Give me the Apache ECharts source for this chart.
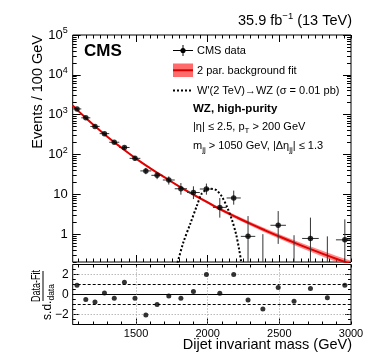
<!DOCTYPE html>
<html><head><meta charset="utf-8">
<script src="https://cdn.jsdelivr.net/npm/echarts@6/dist/echarts.min.js"></script>
<style>html,body{margin:0;padding:0;background:#fff}#c{width:374px;height:363px}</style>
</head><body><div id="c"></div>
<script>
// ---------------- data ----------------
const binEdges = [1058,1118,1181,1246,1313,1383,1455,1530,1607,1687,1770,1856,1945,2037,2132,2231,2332,2438,2546,2659,2775,2895,3019];
const events   = [1393,833,507,334,203,150,80,38.7,30,22.9,13.8,11.1,13.6,4.7,8.1,0.88,0,1.67,0,0.78,0,0.72];
const errLow   = [1345,797,479,312,186,136,70,32,24,17.6,9.8,7.6,9.8,2.6,5.5,0.13,0,0.57,0,0.12,0,0.11];
const errHigh  = [1441,869,535,356,220,164,90,46,36,28.2,19.2,15.9,18.6,8.1,12.4,2.84,1.0,3.8,0.94,2.6,0.88,2.36];
const pulls    = [0.93,-0.5,-0.74,0.16,-0.37,1.23,-0.37,-2.04,-1.0,-0.14,-0.37,0.3,2.0,0.13,2.0,-0.54,-1.44,0.7,-0.67,0.6,-0.33,0.93];
const fitMass   = [1058,1100,1200,1300,1400,1500,1600,1700,1800,1900,2000,2100,2200,2300,2400,2500,2600,2700,2800,2900,3000];
const fitValues = [1700,1210,565,280,146,79,45,26.5,15.9,9.8,6.25,4.0,2.67,1.81,1.25,0.875,0.62,0.445,0.324,0.238,0.177];
const fitBandDex = [0.02,0.015,0.01,0.01,0.01,0.012,0.015,0.018,0.022,0.027,0.032,0.037,0.043,0.048,0.053,0.058,0.063,0.068,0.073,0.078,0.083];
const sigMass   = [1760,1790,1830,1877,1923,1958,1990,2016,2040,2063,2098,2133,2168,2198,2219,2232,2245];
const sigValues = [0.1,0.2,0.62,1.77,5.0,10.4,13.0,13.8,13.5,12.6,8.9,5.0,2.36,1.0,0.42,0.22,0.1];
const yTickLabels = [1,10,100,1000,10000,100000];
const xTickLabels = [1500,2000,2500,3000];
const pullTickLabels = [-2,0,2];

// ---------------- helpers ----------------
const FONT = "'Liberation Sans', Arial, Helvetica, sans-serif";
const xMin = 1058, xMax = 3000;
function range(a,b,s){const r=[];for(let v=a;v<=b+1e-9;v+=s)r.push(Math.round(v*1000)/1000);return r;}
const xMinorTicks = range(1100,3000,50);
const logMinorTicks = [];
[0.1,1,10,100,1000,10000].forEach(d=>{for(let k=2;k<=9;k++){const v=k*d; if(v>=0.2&&v<=1e5) logMinorTicks.push(+v.toPrecision(3));}});
const pullMinor = range(-3,3,0.5);

function xAx(grid,pos,ticks,len,labels){
  return {type:'value',gridIndex:grid,position:pos,min:xMin,max:xMax,
    axisLine:{show:false,onZero:false},splitLine:{show:false},
    axisTick:{show:true,inside:true,length:len,customValues:ticks,lineStyle:{color:'#000',width:1}},
    axisLabel: labels?{show:true,customValues:labels,margin:4,fontSize:11,color:'#000',fontFamily:FONT,formatter:v=>String(v)}:{show:false}};
}
function logY(pos,ticks,len,labels){
  return {type:'log',logBase:10,gridIndex:0,position:pos,min:0.2,max:1e5,
    axisLine:{show:false,onZero:false},splitLine:{show:false},minorTick:{show:false},
    axisTick:{show:true,inside:true,length:len,customValues:ticks,lineStyle:{color:'#000',width:1}},
    axisLabel: labels?{show:true,customValues:labels,margin:5,fontSize:13,color:'#000',fontFamily:FONT,
      formatter:v=>{if(v<=1.5)return '1'; if(v<15) return '10'; return '10{s|'+Math.round(Math.log10(v))+'}';},
      rich:{s:{fontSize:9,fontFamily:FONT,color:'#000',padding:[0,0,8,0]}}}:{show:false}};
}
function pullY(pos,ticks,len,labels){
  return {type:'value',gridIndex:1,position:pos,min:-3,max:3,
    axisLine:{show:false,onZero:false},splitLine:{show:false},
    axisTick:{show:true,inside:true,length:len,customValues:ticks,lineStyle:{color:'#000',width:1}},
    axisLabel: labels?{show:true,customValues:labels,margin:4,fontSize:12,color:'#000',fontFamily:FONT,
      formatter:v=>v<0?'\u2212'+(-v):String(v)}:{show:false}};
}

const fitData = fitMass.map((m,i)=>[m,fitValues[i]]);
const sigData = sigMass.map((m,i)=>[m,sigValues[i]]);
const centers = events.map((v,i)=>(binEdges[i]+binEdges[i+1])/2);
const barData = events.map((v,i)=>[centers[i],v,errLow[i],errHigh[i],binEdges[i],binEdges[i+1]]);
const ptData = events.map((v,i)=>[centers[i],v]).filter(p=>p[1]>0);
const pullData = pulls.map((p,i)=>[centers[i],p]);

const chart = echarts.init(document.getElementById('c'),null,{renderer:'canvas'});
const option = {
  animation:false, backgroundColor:'#fff',
  grid:[
    {left:72.7,right:23,top:35,height:227,show:true,borderColor:'#000',borderWidth:1,backgroundColor:'transparent',containLabel:false,outerBoundsMode:'none'},
    {left:72.7,right:23,top:264.5,height:60,show:true,borderColor:'#000',borderWidth:1,backgroundColor:'transparent',containLabel:false,outerBoundsMode:'none'}
  ],
  xAxis:[
    xAx(0,'bottom',xMinorTicks,3.5,null),
    xAx(0,'bottom',[1500,2000,2500],7,null),
    xAx(0,'top',xMinorTicks,3.5,null),
    xAx(0,'top',[1500,2000,2500],7,null),
    xAx(1,'bottom',range(1100,3000,100),3,xTickLabels),
    xAx(1,'bottom',[1500,2000,2500],6,null),
    xAx(1,'top',range(1100,3000,100),3,null)
  ],
  yAxis:[
    logY('left',yTickLabels,8,yTickLabels),
    logY('left',logMinorTicks,4,null),
    logY('right',yTickLabels,8,null),
    logY('right',logMinorTicks,4,null),
    pullY('left',pullTickLabels,6,pullTickLabels),
    pullY('left',pullMinor,3,null),
    pullY('right',pullTickLabels,6,null),
    pullY('right',pullMinor,3,null)
  ],
  series:[
    {type:'custom',xAxisIndex:0,yAxisIndex:0,data:[fitData[0]],encode:{x:0,y:1},silent:true,z:2,
      renderItem:function(params,api){
        const cs=params.coordSys; const yb=cs.y+cs.height, yt=cs.y;
        const cy=y=>Math.max(yt,Math.min(yb,y));
        const up=[],lo=[];
        for(let i=0;i<fitMass.length;i++){
          const a=api.coord([fitMass[i],fitValues[i]*Math.pow(10,fitBandDex[i])]);
          const b=api.coord([fitMass[i],fitValues[i]*Math.pow(10,-fitBandDex[i])]);
          up.push([a[0],cy(a[1])]); lo.push([b[0],cy(b[1])]);
        }
        return {type:'polygon',shape:{points:up.concat(lo.reverse()),smooth:0},style:{fill:'rgba(255,60,60,0.6)'}};
      }},
    {type:'line',xAxisIndex:0,yAxisIndex:0,data:fitData,symbol:'none',smooth:true,lineStyle:{color:'#e00000',width:2},silent:true,z:3},
    {type:'line',xAxisIndex:0,yAxisIndex:0,data:sigData,symbol:'none',smooth:0.3,lineStyle:{color:'#000',width:2,type:[2,2]},silent:true,z:4},
    {type:'custom',xAxisIndex:0,yAxisIndex:0,data:barData,encode:{x:0,y:1},silent:true,z:5,
      renderItem:function(params,api){
        const cs=params.coordSys; const xl=cs.x,xr=cs.x+cs.width,yt=cs.y,yb=cs.y+cs.height;
        const cy=y=>Math.max(yt,Math.min(yb,y)), cx=x=>Math.max(xl,Math.min(xr,x));
        const c=api.value(0),v=api.value(1),lo=api.value(2),hi=api.value(3),e0=api.value(4),e1=api.value(5);
        const pHi=api.coord([c,hi]);
        const yLo= lo>0 ? api.coord([c,lo])[1] : yb;
        const ch=[{type:'line',shape:{x1:pHi[0],y1:cy(pHi[1]),x2:pHi[0],y2:cy(yLo)},style:{stroke:'#333',lineWidth:1}}];
        if(v>0){const a=api.coord([e0,v]),b=api.coord([e1,v]);
          ch.push({type:'line',shape:{x1:cx(a[0]),y1:a[1],x2:cx(b[0]),y2:b[1]},style:{stroke:'#333',lineWidth:1}});}
        return {type:'group',children:ch};
      }},
    {type:'scatter',xAxisIndex:0,yAxisIndex:0,data:ptData,symbol:'circle',symbolSize:5.5,itemStyle:{color:'#000'},silent:true,z:6},
    {type:'scatter',xAxisIndex:4,yAxisIndex:4,data:pullData,symbol:'circle',symbolSize:5,itemStyle:{color:'#000'},silent:true,z:6,
      markLine:{silent:true,symbol:['none','none'],label:{show:false},animation:false,
        data:[
          {yAxis:2,lineStyle:{color:'#999',type:[1,2],width:1}},
          {yAxis:-2,lineStyle:{color:'#999',type:[1,2],width:1}},
          {yAxis:1,lineStyle:{color:'#000',type:[3,2],width:1}},
          {yAxis:-1,lineStyle:{color:'#000',type:[3,2],width:1}},
          {yAxis:0,lineStyle:{color:'#000',type:'solid',width:1}},
          {xAxis:1500,lineStyle:{color:'#999',type:[1,2],width:1}},
          {xAxis:2000,lineStyle:{color:'#999',type:[1,2],width:1}},
          {xAxis:2500,lineStyle:{color:'#999',type:[1,2],width:1}}
        ]}}
  ],
  graphic:[
    {type:'text',x:84,y:51,style:{text:'CMS',fontSize:17,fontWeight:'bold',fontFamily:FONT,fill:'#000',align:'left',verticalAlign:'middle'}},
    {type:'text',x:352,y:21,style:{text:'35.9 fb{s|\u22121} (13 TeV)',fontSize:14.5,fontFamily:FONT,fill:'#000',align:'right',verticalAlign:'middle',
      rich:{s:{fontSize:9.5,fontFamily:FONT,fill:'#000',padding:[0,0,9,0]}}}},
    {type:'text',x:38,y:35,rotation:Math.PI/2,style:{text:'Events / 100 GeV',fontSize:14.5,fontFamily:FONT,fill:'#000',align:'right',verticalAlign:'middle'}},
    {type:'text',x:352,y:345,style:{text:'Dijet invariant mass (GeV)',fontSize:14.5,fontFamily:FONT,fill:'#000',align:'right',verticalAlign:'middle'}},
    {type:'group',x:43,y:294,rotation:Math.PI/2,children:[
      {type:'text',x:8,y:-6,scaleX:0.75,style:{text:'Data-Fit',fontSize:12,fontFamily:FONT,fill:'#000',align:'center',verticalAlign:'middle'}},
      {type:'line',shape:{x1:-7,y1:0,x2:23,y2:0},style:{stroke:'#000',lineWidth:1}},
      {type:'text',x:-8,y:5,style:{text:'s.d.{b|data}',fontSize:12,fontFamily:FONT,fill:'#000',align:'center',verticalAlign:'middle',
        rich:{b:{fontSize:8.5,fontFamily:FONT,fill:'#000',padding:[7,0,0,0]}}}}
    ]},
    // legend
    {type:'line',shape:{x1:173,y1:50.5,x2:193,y2:50.5},style:{stroke:'#000',lineWidth:1}},
    {type:'line',shape:{x1:183,y1:45,x2:183,y2:56},style:{stroke:'#000',lineWidth:1}},
    {type:'circle',shape:{cx:183,cy:50.5,r:2.6},style:{fill:'#000'}},
    {type:'text',x:197,y:51,style:{text:'CMS data',fontSize:11,fontFamily:FONT,fill:'#000',align:'left',verticalAlign:'middle'}},
    {type:'rect',shape:{x:173,y:63.5,width:20,height:13.5},style:{fill:'rgba(255,70,70,0.8)'}},
    {type:'line',shape:{x1:173,y1:70.3,x2:193,y2:70.3},style:{stroke:'#d00000',lineWidth:2}},
    {type:'text',x:197,y:70.5,style:{text:'2 par. background fit',fontSize:11,fontFamily:FONT,fill:'#000',align:'left',verticalAlign:'middle'}},
    {type:'line',shape:{x1:173,y1:90.5,x2:193,y2:90.5},style:{stroke:'#000',lineWidth:2,lineDash:[2,2]}},
    {type:'text',x:197,y:90.5,style:{text:"W'(2 TeV)\u2192WZ (\u03c3 = 0.01 pb)",fontSize:11,fontFamily:FONT,fill:'#000',align:'left',verticalAlign:'middle'}},
    {type:'text',x:193,y:108.5,style:{text:'WZ, high-purity',fontSize:11.5,fontWeight:'bold',fontFamily:FONT,fill:'#000',align:'left',verticalAlign:'middle'}},
    {type:'text',x:193,y:127,style:{text:'|\u03b7| \u2264 2.5, p{b|T} > 200 GeV',fontSize:11,fontFamily:FONT,fill:'#000',align:'left',verticalAlign:'middle',
      rich:{b:{fontSize:8,fontFamily:FONT,fill:'#000',padding:[7,0,0,0]}}}},
    {type:'text',x:193,y:146,style:{text:'m{b|jj} > 1050 GeV, |\u0394\u03b7{b|jj}| \u2264 1.3',fontSize:11,fontFamily:FONT,fill:'#000',align:'left',verticalAlign:'middle',
      rich:{b:{fontSize:8,fontFamily:FONT,fill:'#000',padding:[7,0,0,0]}}}}
  ]
};
chart.setOption(option);
</script></body></html>
